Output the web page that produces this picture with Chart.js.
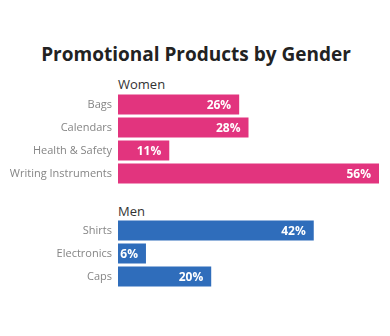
<!DOCTYPE html>
<html>
<head>
<meta charset="utf-8">
<script src="https://cdn.jsdelivr.net/npm/chart.js@4/dist/chart.umd.min.js"></script>
<style>
    body { margin: 0; background: #fff; font-family: "Open Sans", sans-serif; }
    #wrap { position: relative; width: 390px; height: 336px; overflow: hidden; }
    .title { position: absolute; left: 0; top: 41px; width: 392px; text-align: center;
             font-size: 19px; font-weight: 700; color: #222; }
    .group { position: absolute; left: 118px; font-size: 13px; font-weight: 500; color: #333; }
    canvas { position: absolute; left: 0; }
</style>
</head>
<body>
<div id="wrap">
    <div class="title">Promotional Products by Gender</div>
    <div class="group" style="top:75px">Women</div>
    <div class="group" style="top:202px">Men</div>
    <canvas id="women" width="390" height="92" style="top:93px"></canvas>
    <canvas id="men" width="390" height="69" style="top:219px"></canvas>
</div>
<script>
// Data
const womenCategories = ["Bags", "Calendars", "Health & Safety", "Writing Instruments"];
const womenValues = [26, 28, 11, 56];
const menCategories = ["Shirts", "Electronics", "Caps"];
const menValues = [42, 6, 20];

// Draw the percent label inside the end of each bar
const valueLabels = {
    id: 'valueLabels',
    afterDatasetsDraw(chart) {
        const ctx = chart.ctx;
        ctx.save();
        ctx.font = 'bold 12px "Open Sans", sans-serif';
        ctx.fillStyle = '#fff';
        ctx.textAlign = 'right';
        ctx.textBaseline = 'middle';
        chart.getDatasetMeta(0).data.forEach((bar, i) => {
            ctx.fillText(chart.data.datasets[0].data[i] + '%', bar.x - 8, bar.y + 1);
        });
        ctx.restore();
    }
};

function makeChart(id, labels, values, color) {
    new Chart(document.getElementById(id), {
        type: 'bar',
        data: {
            labels: labels,
            datasets: [{
                data: values,
                backgroundColor: color,
                categoryPercentage: 1,
                barPercentage: 0.87
            }]
        },
        options: {
            indexAxis: 'y',
            responsive: false,
            animation: false,
            layout: { padding: { top: 0, bottom: 0, left: 0, right: 11 } },
            plugins: { legend: { display: false }, tooltip: { enabled: false } },
            scales: {
                x: { display: false, min: 0, max: 56 },
                y: {
                    grid: { display: false, drawTicks: false },
                    border: { display: false },
                    ticks: { color: '#858585', font: { size: 11, family: '"Open Sans", sans-serif' }, padding: 6 },
                    afterFit: (scale) => {
                        scale.width = 118;
                        scale.paddingTop = 0;
                        scale.paddingBottom = 0;
                    }
                }
            }
        },
        plugins: [valueLabels]
    });
}

makeChart('women', womenCategories, womenValues, '#e2347e');
makeChart('men', menCategories, menValues, '#2f6dbb');
</script>
</body>
</html>
